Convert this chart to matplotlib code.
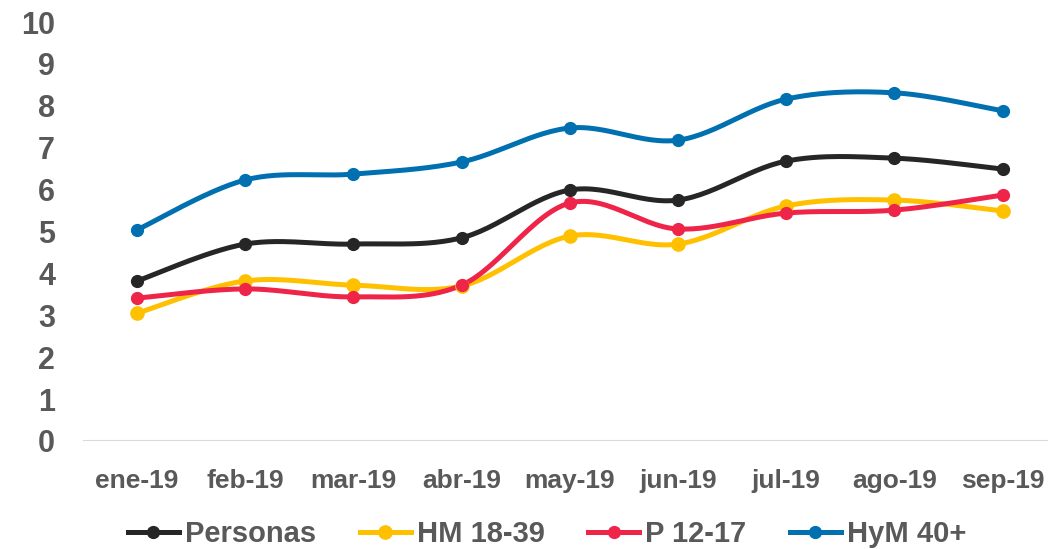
import matplotlib
matplotlib.use("Agg")
import matplotlib.pyplot as plt
import numpy as np
from matplotlib.lines import Line2D

months = ["ene-19", "feb-19", "mar-19", "abr-19", "may-19", "jun-19", "jul-19", "ago-19", "sep-19"]
personas = [3.82, 4.70, 4.70, 4.85, 5.99, 5.75, 6.68, 6.75, 6.49]
hm_18_39 = [3.05, 3.82, 3.72, 3.70, 4.89, 4.70, 5.61, 5.75, 5.49]
p_12_17 = [3.41, 3.63, 3.44, 3.72, 5.68, 5.06, 5.44, 5.51, 5.87]
hym_40 = [5.04, 6.23, 6.37, 6.66, 7.47, 7.18, 8.16, 8.31, 7.88]

names = ["Personas", "HM 18-39", "P 12-17", "HyM 40+"]
colors = ["#262626", "#FFC000", "#EE2449", "#0070B0"]
msizes = [8.5, 9.5, 8.5, 8.5]

plt.rcParams['font.family'] = ['Liberation Sans', 'DejaVu Sans']
plt.rcParams['font.weight'] = 'bold'


def smooth(x, y, n=30):
    # excel-like smoothed line (catmull-rom bezier)
    x = np.asarray(x, float)
    y = np.asarray(y, float)
    pts = np.column_stack([x, y])
    out = []
    for i in range(len(pts) - 1):
        p0 = pts[max(i - 1, 0)]
        p1 = pts[i]
        p2 = pts[i + 1]
        p3 = pts[min(i + 2, len(pts) - 1)]
        c1 = p1 + (p2 - p0) / 6
        c2 = p2 - (p3 - p1) / 6
        t = np.linspace(0, 1, n)[:, None]
        seg = (1 - t) ** 3 * p1 + 3 * (1 - t) ** 2 * t * c1 + 3 * (1 - t) * t ** 2 * c2 + t ** 3 * p2
        out.append(seg if i == 0 else seg[1:])
    out = np.vstack(out)
    return out[:, 0], out[:, 1]


fig = plt.figure(figsize=(10.48, 5.49), dpi=100)
ax = fig.add_axes([83 / 1048, 108 / 549, 1 - 83 / 1048, 419 / 549])

x = np.arange(len(months))
series = [personas, hm_18_39, p_12_17, hym_40]
for vals, c, ms in zip(series, colors, msizes):
    sx, sy = smooth(x, vals)
    ax.plot(sx, sy, color=c, lw=3.6, solid_capstyle='round', zorder=3)
    ax.plot(x, vals, 'o', color=c, ms=ms, zorder=4)

ax.set_xlim(-0.5, 8.42)
ax.set_ylim(0, 10)
ax.set_yticks(range(0, 11))
ax.set_xticks(x)
ax.set_xticklabels(months)
for s in ax.spines.values():
    s.set_visible(False)
ax.axhline(0, color="#D9D9D9", lw=1.5, zorder=1)
ax.tick_params(length=0, labelcolor="#595959")
ax.tick_params(axis='y', pad=20, labelsize=22)
ax.tick_params(axis='x', pad=20, labelsize=19)
for lab in ax.get_yticklabels():
    lab.set_horizontalalignment('right')

handles = [Line2D([0], [0], color=c, lw=3.6, marker='o', ms=ms) for c, ms in zip(colors, msizes)]
leg = fig.legend(handles, names, loc='lower center', bbox_to_anchor=(0.522, -0.046), ncol=4,
                 frameon=False, fontsize=21, handlelength=1.75, columnspacing=1.5, handletextpad=0.2)
for t in leg.get_texts():
    t.set_color("#595959")

fig.savefig("out.png", dpi=100)
